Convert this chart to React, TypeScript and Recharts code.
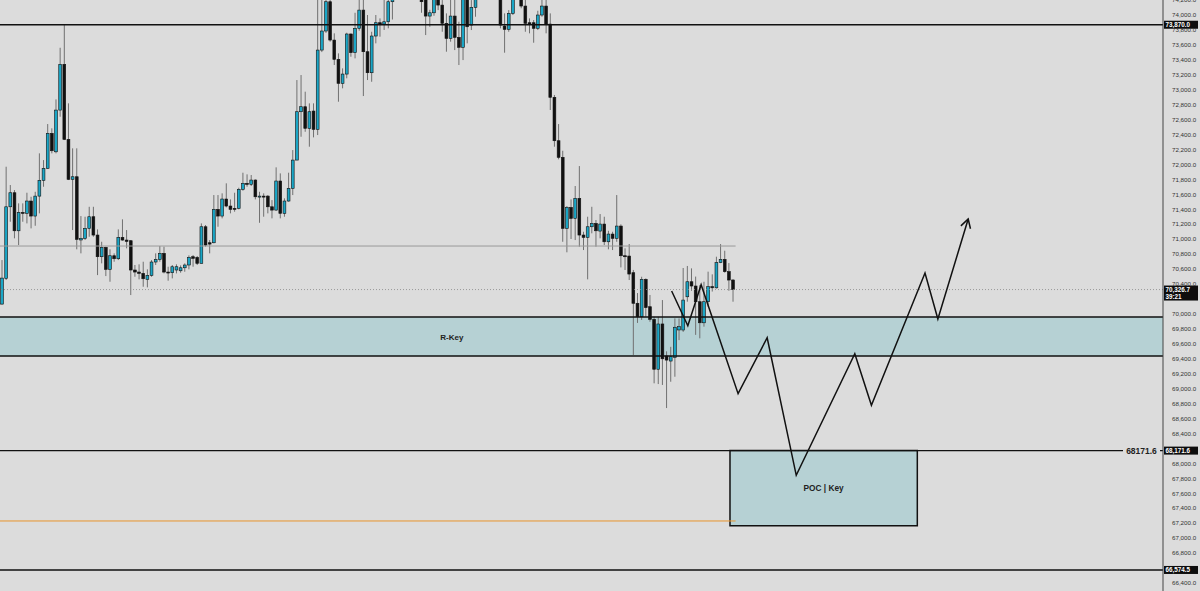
import React from 'react';
import {
  ComposedChart,
  Bar,
  Line,
  XAxis,
  YAxis,
  ReferenceLine,
  ReferenceArea,
  ReferenceDot,
} from 'recharts';

// ---------- data ----------
const opens = [
  70132, 70476, 71434, 71622, 71113, 71359, 71346, 71511, 71310, 71577,
  71788, 71948, 72417, 72170, 72728, 73340, 72336, 71801, 71836, 70990,
  71012, 71145, 71301, 71056, 70766, 70891, 70597, 70779, 70739, 71025,
  70989, 70980, 70588, 70561, 70543, 70463, 70516, 70695, 70730, 70811,
  70561, 70552, 70588, 70578, 70618, 70655, 70766, 70757, 70677, 71167,
  70953, 70953, 71400, 71310, 71538, 71444, 71413, 71413, 71668, 71748,
  71734, 71792, 71568, 71577, 71577, 71434, 71390, 71779, 71346, 71511,
  71681, 72059, 72706, 72773, 72484, 72715, 72470, 73531, 73786, 74178,
  73665, 73407, 73086, 73210, 73746, 73496, 73822, 74066, 73509, 73228,
  73719, 73897, 73879, 73910, 74178, 74220, 74350, 74300, 74420, 74380,
  74450, 74330, 74210, 73986, 74030, 74230, 74133, 73889, 73688, 73986,
  73701, 73568, 74220, 73866, 74103, 74230, 74360, 74300, 74400, 74340,
  74280, 73852, 73808, 74022, 74230, 74350, 74120, 73897, 73897, 73822,
  74000, 74120, 73879, 72899, 72318, 72096, 71145, 71426, 71279, 71547,
  71056, 71025, 71167, 71212, 71109, 71203, 70966, 71069, 71012, 71176,
  70779, 70775, 70552, 70143, 69963, 70463, 70097, 69928, 69260, 69866,
  69437, 69370, 69420, 69786, 69785, 70230, 70431, 70374, 70164, 69882,
  70164, 70365, 70350, 70686, 70731, 70566, 70454,
];
const highs = [
  70721, 71970, 71725, 71658, 71480, 71480, 71622, 71568, 71635, 72149,
  72059, 72541, 72484, 72871, 73562, 73866, 72818, 72216, 72216, 71310,
  71301, 71434, 71434, 71132, 70966, 70900, 70865, 70811, 71132, 71266,
  71123, 70989, 70655, 70664, 70699, 70597, 70721, 70811, 70909, 70900,
  70632, 70655, 70664, 70650, 70677, 70784, 70788, 70775, 71212, 71190,
  70989, 71591, 71591, 71614, 71748, 71533, 71622, 71689, 71890, 71868,
  71859, 71801, 71635, 71614, 71591, 71524, 71962, 71881, 71547, 71890,
  72193, 73130, 73197, 72974, 72818, 72818, 74230, 74250, 74300, 74280,
  73755, 73487, 73286, 73763, 73755, 74030, 74250, 74230, 74000, 73776,
  74000, 73955, 74210, 74260, 74300, 74420, 74480, 74500, 74520, 74560,
  74500, 74380, 74320, 74070, 74260, 74280, 74200, 74022, 74220, 74220,
  73910, 74300, 74280, 74200, 74300, 74420, 74450, 74480, 74460, 74400,
  74320, 74022, 74066, 74300, 74420, 74420, 74230, 73955, 73933, 74057,
  74260, 74250, 74022, 72930, 72541, 72184, 71444, 71533, 71712, 71979,
  71100, 71301, 71434, 71257, 71337, 71301, 71113, 71100, 71591, 71199,
  70878, 70936, 70589, 70280, 70498, 70476, 70254, 69963, 69963, 70186,
  69500, 69560, 69941, 69940, 70615, 70642, 70610, 70500, 70387, 70431,
  70566, 70530, 70766, 70935, 70846, 70681, 70467,
];
const lows = [
  70126, 70454, 71234, 71012, 70922, 71234, 71212, 71145, 71180, 71346,
  71702, 71940, 72149, 72149, 72639, 72327, 71792, 71123, 70865, 70811,
  70990, 71033, 71033, 70520, 70677, 70507, 70431, 70699, 70721, 70980,
  70878, 70253, 70498, 70463, 70364, 70356, 70498, 70655, 70699, 70543,
  70445, 70476, 70543, 70552, 70565, 70597, 70632, 70655, 70677, 70900,
  70811, 70945, 71167, 71279, 71426, 71346, 71368, 71400, 71649, 71702,
  71712, 71533, 71220, 71301, 71346, 71279, 71381, 71279, 71301, 71502,
  71591, 72059, 72371, 72438, 72238, 72363, 72394, 73504, 73760, 73643,
  73331, 72840, 73019, 73153, 73442, 73420, 73790, 72916, 73130, 73107,
  73621, 73710, 73800, 73822, 73940, 74215, 74260, 74280, 74330, 74350,
  74300, 74030, 73732, 73843, 73990, 74066, 73776, 73509, 73643, 73531,
  73331, 73397, 73621, 73799, 73977, 74220, 74260, 74280, 74300, 74240,
  73822, 73496, 73776, 74000, 74215, 74090, 73776, 73755, 73629, 73799,
  73977, 73755, 72729, 72238, 72069, 70966, 70825, 71003, 70989, 70900,
  70855, 70463, 71079, 70900, 71012, 70922, 70865, 70855, 70966, 70623,
  70588, 70454, 69451, 69880, 69920, 69963, 69896, 69072, 69062, 69050,
  68741, 69093, 69160, 69650, 69760, 70164, 70310, 69720, 69674, 69830,
  70097, 70300, 70340, 70680, 70552, 70311, 70164,
];
const closes = [
  70480, 71434, 71622, 71113, 71359, 71350, 71511, 71310, 71577, 71788,
  71948, 72417, 72184, 72728, 73340, 72336, 71801, 71836, 70998, 71012,
  71145, 71301, 71056, 70766, 70891, 70597, 70779, 70739, 71025, 70989,
  70971, 70588, 70561, 70543, 70471, 70516, 70695, 70730, 70811, 70561,
  70552, 70632, 70632, 70618, 70655, 70757, 70744, 70677, 71167, 70922,
  70935, 71400, 71310, 71538, 71444, 71400, 71404, 71668, 71748, 71734,
  71792, 71568, 71577, 71568, 71434, 71390, 71779, 71346, 71511, 71681,
  72059, 72706, 72773, 72484, 72706, 72470, 73531, 73786, 74178, 73665,
  73407, 73086, 73210, 73746, 73496, 73822, 74066, 73509, 73228, 73719,
  73897, 73879, 73910, 74178, 74210, 74350, 74300, 74420, 74380, 74450,
  74330, 74178, 73986, 74030, 74220, 74133, 73889, 73688, 73986, 73701,
  73568, 74230, 73843, 74103, 74230, 74360, 74300, 74400, 74340, 74280,
  73866, 73808, 74022, 74230, 74350, 74120, 73889, 73879, 73822, 74000,
  74120, 73879, 72899, 72318, 72096, 71145, 71426, 71279, 71547, 71056,
  71025, 71167, 71212, 71113, 71203, 70966, 71069, 71012, 71176, 70779,
  70775, 70534, 70143, 69963, 70463, 70085, 69928, 69260, 69866, 69400,
  69383, 69428, 69822, 69830, 70186, 70431, 70374, 70164, 69882, 70164,
  70365, 70350, 70686, 70731, 70566, 70454, 70326.7,
];

const SLOTS = 280;

// axis labels (the ones fully hidden behind the price tags are left out)
const priceTicks = [
  66400, 66800, 67000, 67200, 67400, 67600, 67800, 68000,
  68400, 68600, 68800, 69000, 69200, 69400, 69600, 69800, 70000,
  70400, 70600, 70800, 71000, 71200, 71400, 71600, 71800, 72000, 72200,
  72400, 72600, 72800, 73000, 73200, 73400, 73600, 73800, 74000, 74200,
];

// projected path (x in candle slots, y in price)
const zigX = [161.2, 165.1, 168.3, 177.2, 184.2, 191.2, 205.3, 209.3, 222.2, 225.3, 232.6];
const zigP = [70307, 69843, 70391, 68933, 69682, 67841, 69468, 68778, 70548, 69932, 71270];

const LEVEL_HIGH = 73870;
const LEVEL_LAST = 70326.7;
const LEVEL_POC = 68171.6;
const LEVEL_LOW = 66574.5;
const LEVEL_MID = 70909;
const LEVEL_ORANGE = 67230;
const RKEY_TOP = 69959;
const RKEY_BOTTOM = 69437;
const POC_BOTTOM = 67167;
const POC_X1 = 175.25;
const POC_X2 = 220.35;
const HIST_END = 176.6;
const RKEY_LABEL_X = 108.3;

// ---------- build ----------
const data = Array.from({ length: SLOTS }, (_, i) =>
  i < opens.length
    ? { i, o: opens[i], h: highs[i], l: lows[i], c: closes[i], range: [lows[i], highs[i]] }
    : { i, o: null, h: null, l: null, c: null, range: null }
);
const zigData = zigX.map((x, k) => ({ x, p: zigP[k] }));

const FONT = '"Liberation Sans", Arial, sans-serif';
const BG = '#dcdcdc';
const TEAL = '#b6d1d4';
const CYAN = '#1aa6c6';

const Candle = (props: any) => {
  const { x, y, width, height, payload } = props;
  if (!payload || payload.o == null || y == null || isNaN(y)) return <g />;
  const top = Math.min(y, y + height);
  const bot = Math.max(y, y + height);
  const { o, h, l, c } = payload;
  const k = h === l ? 0 : (bot - top) / (h - l);
  const py = (v: number) => top + (h - v) * k;
  const cx = x + width / 2;
  const up = c >= o;
  const bTop = py(Math.max(o, c));
  const bBot = py(Math.min(o, c));
  const bh = Math.max(bBot - bTop, 1);
  return (
    <g>
      <line x1={cx} x2={cx} y1={top} y2={bot} stroke="#707070" strokeWidth={1} />
      <rect
        x={cx - 1.4}
        y={bTop}
        width={2.8}
        height={bh}
        fill={up ? CYAN : '#111'}
        stroke="#111"
        strokeWidth={0.6}
      />
    </g>
  );
};

const Tag = (props: any) => {
  const { viewBox, txt, sub, mid } = props;
  if (!viewBox) return null;
  const xr = viewBox.x + viewBox.width;
  const y = viewBox.y;
  const h = sub ? 15 : 8;
  return (
    <g>
      {mid && (
        <g>
          <rect x={xr - 40} y={y - 5} width={37} height={10} fill={BG} />
          <text
            x={xr - 21.5}
            y={y + 3}
            textAnchor="middle"
            fontSize={8.5}
            fontWeight="bold"
            fill="#222"
            fontFamily={FONT}
          >
            {mid}
          </text>
        </g>
      )}
      <rect x={xr + 1} y={y - 4} width={34} height={h} fill="#0d0d0d" />
      <text x={xr + 2.5} y={y + 2.3} fontSize={6.3} fontWeight="bold" fill="#fff" fontFamily={FONT}>
        {txt}
      </text>
      {sub && (
        <text x={xr + 2.5} y={y + 9.3} fontSize={6.3} fontWeight="bold" fill="#fff" fontFamily={FONT}>
          {sub}
        </text>
      )}
    </g>
  );
};

const arrowStash: { x?: number; y?: number } = {};
const ZigDot = (props: any) => {
  const { cx, cy, index, points } = props;
  const last = zigData.length - 1;
  if (index === last - 1) {
    arrowStash.x = cx;
    arrowStash.y = cy;
  }
  if (index !== last) return <g key={`d${index}`} />;
  let px = arrowStash.x;
  let py = arrowStash.y;
  if (points && points[last - 1]) {
    px = points[last - 1].x;
    py = points[last - 1].y;
  }
  if (px == null || py == null) return <g key={`d${index}`} />;
  const dx = px - cx;
  const dy = py - cy;
  const len = Math.hypot(dx, dy) || 1;
  const bx = dx / len;
  const by = dy / len;
  const c = Math.cos(Math.PI / 6);
  const s = Math.sin(Math.PI / 6);
  const L = 10;
  const w1x = cx + L * (bx * c - by * s);
  const w1y = cy + L * (bx * s + by * c);
  const w2x = cx + L * (bx * c + by * s);
  const w2y = cy + L * (-bx * s + by * c);
  return (
    <path
      key={`d${index}`}
      d={`M${w1x},${w1y}L${cx},${cy}L${w2x},${w2y}`}
      stroke="#111"
      strokeWidth={1.5}
      fill="none"
    />
  );
};

const RKeyLabel = (props: any) => (
  <text
    x={props.cx}
    y={props.cy + 3}
    textAnchor="middle"
    fontSize={8}
    fontWeight="bold"
    fill="#222"
    fontFamily={FONT}
  >
    R-Key
  </text>
);

const fmt = (v: number) =>
  v.toLocaleString('en-US', { minimumFractionDigits: 1, maximumFractionDigits: 1 });

export default function App() {
  return (
    <div style={{ position: 'absolute', left: 0, top: 0, width: 1200, height: 591, background: BG }}>
      <ComposedChart
        width={1200}
        height={591}
        data={data}
        margin={{ top: 0, right: 0, bottom: 0, left: 0 }}
        barCategoryGap={0}
      >
        <XAxis dataKey="i" hide />
        <XAxis xAxisId="n" type="number" dataKey="x" domain={[-0.5, SLOTS - 0.5]} allowDataOverflow hide />
        <YAxis
          orientation="right"
          width={37}
          domain={[66293, 74201]}
          allowDataOverflow
          ticks={priceTicks}
          interval={0}
          tickFormatter={fmt}
          tickLine={false}
          tickMargin={3}
          axisLine={{ stroke: '#444', strokeWidth: 1 }}
          tick={{ fontSize: 6.2, fill: '#333', fontFamily: FONT }}
        />
        <ReferenceArea y1={RKEY_BOTTOM} y2={RKEY_TOP} fill={TEAL} fillOpacity={1} stroke="none" />
        <ReferenceArea
          xAxisId="n"
          x1={POC_X1}
          x2={POC_X2}
          y1={POC_BOTTOM}
          y2={LEVEL_POC}
          fill={TEAL}
          fillOpacity={1}
          stroke="#111"
          strokeWidth={1.5}
          label={{ value: 'POC  |  Key', position: 'center', fontSize: 8.3, fontWeight: 'bold', fill: '#222', fontFamily: FONT }}
        />
        <Bar dataKey="range" shape={Candle} isAnimationActive={false} />
        <ReferenceLine y={RKEY_TOP} stroke="#111" strokeWidth={1.5} />
        <ReferenceLine y={RKEY_BOTTOM} stroke="#111" strokeWidth={1.5} />
        <ReferenceLine
          xAxisId="n"
          segment={[{ x: -0.5, y: LEVEL_MID }, { x: HIST_END, y: LEVEL_MID }]}
          stroke="#999"
          strokeWidth={1}
        />
        <ReferenceLine
          xAxisId="n"
          segment={[{ x: -0.5, y: LEVEL_ORANGE }, { x: HIST_END, y: LEVEL_ORANGE }]}
          stroke="#e9962e"
          strokeWidth={1}
        />
        <ReferenceLine y={LEVEL_LAST} stroke="#8a8a8a" strokeWidth={0.8} strokeDasharray="1 2" label={<Tag txt={fmt(LEVEL_LAST)} sub="39:21" />} />
        <ReferenceLine y={LEVEL_HIGH} stroke="#111" strokeWidth={1.5} label={<Tag txt={fmt(LEVEL_HIGH)} />} />
        <ReferenceLine y={LEVEL_POC} stroke="#111" strokeWidth={1.2} label={<Tag txt={fmt(LEVEL_POC)} mid={String(LEVEL_POC)} />} />
        <ReferenceLine y={LEVEL_LOW} stroke="#111" strokeWidth={1.5} label={<Tag txt={fmt(LEVEL_LOW)} />} />
        <ReferenceDot xAxisId="n" x={RKEY_LABEL_X} y={(RKEY_TOP + RKEY_BOTTOM) / 2} r={1} shape={RKeyLabel} />
        <Line
          xAxisId="n"
          data={zigData}
          dataKey="p"
          type="linear"
          stroke="#111"
          strokeWidth={1.5}
          dot={ZigDot}
          activeDot={false}
          isAnimationActive={false}
        />
      </ComposedChart>
    </div>
  );
}
